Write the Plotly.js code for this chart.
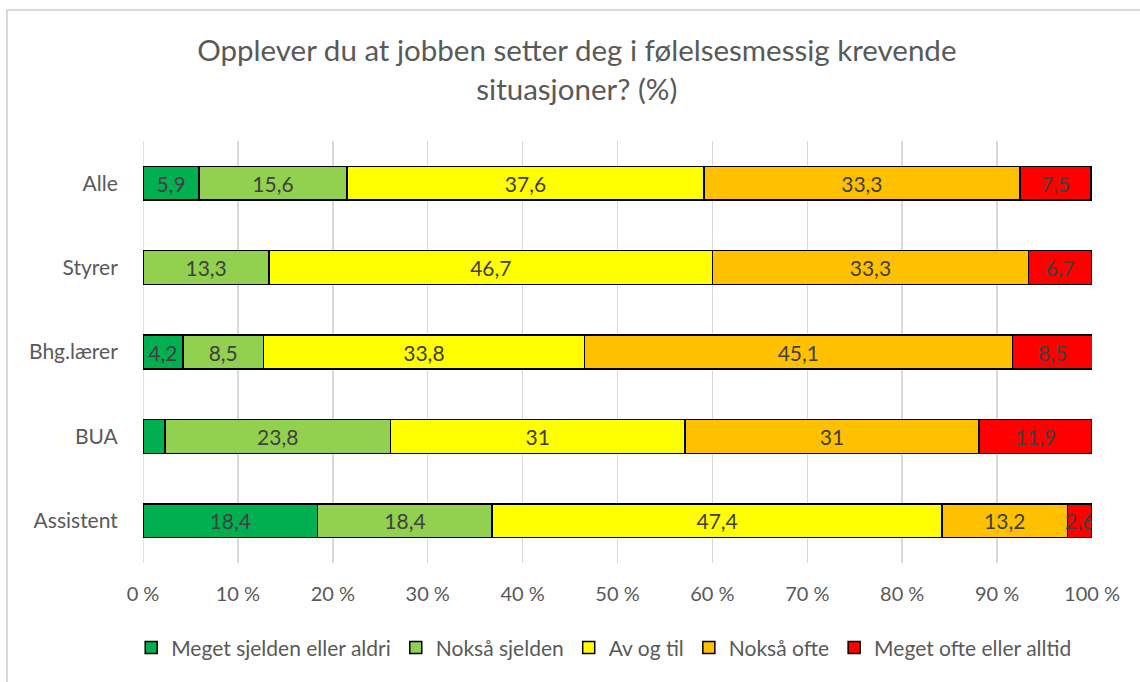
<!DOCTYPE html>
<html>
<head>
<meta charset="utf-8">
<script src="https://cdn.plot.ly/plotly-3.0.1.min.js"></script>
<style>
  html, body { margin: 0; padding: 0; background: #ffffff; }
  #wrap { position: absolute; left: 0; top: 0; width: 1140px; height: 682px; }
  #frame { position: absolute; left: 6px; top: 9px; width: 1140px; height: 690px;
           border-left: 2px solid #d9d9d9; border-top: 2px solid #d9d9d9; pointer-events: none; }
  #chart { position: absolute; left: 0; top: 0; width: 1140px; height: 682px; }
</style>
</head>
<body>
<div id="wrap">
  <div id="chart"></div>
  <div id="frame"></div>
</div>
<script>
// ---- data ----
const categories = ["Alle", "Styrer", "Bhg.lærer", "BUA", "Assistent"];
const seriesNames = ["Meget sjelden eller aldri", "Nokså sjelden", "Av og til", "Nokså ofte", "Meget ofte eller alltid"];
const megetSjelden = [5.9, 0, 4.2, 2.3, 18.4];
const noksaSjelden = [15.6, 13.3, 8.5, 23.8, 18.4];
const avOgTil = [37.6, 46.7, 33.8, 31, 47.4];
const noksaOfte = [33.3, 33.3, 45.1, 31, 13.2];
const megetOfte = [7.5, 6.7, 8.5, 11.9, 2.6];
// labels shown in the picture (BUA's first segment and Styrer's empty segment carry no label)
const shownLabels = [
  [true, false, true, false, true],
  [true, true, true, true, true],
  [true, true, true, true, true],
  [true, true, true, true, true],
  [true, true, true, true, true]
];
const tickValues = [0, 10, 20, 30, 40, 50, 60, 70, 80, 90, 100];
const tickLabels = ["0 %", "10 %", "20 %", "30 %", "40 %", "50 %", "60 %", "70 %", "80 %", "90 %", "100 %"];
const colors = ["#00B050", "#92D050", "#FFFF00", "#FFC000", "#FF0000"];

const allSeries = [megetSjelden, noksaSjelden, avOgTil, noksaOfte, megetOfte];
const FONT = "Lato, 'Open Sans', sans-serif";

const traces = allSeries.map((vals, i) => ({
  type: "bar",
  orientation: "h",
  name: seriesNames[i],
  y: categories,
  x: vals,
  text: vals.map((v, j) => (shownLabels[i][j] && v > 0) ? String(v).replace(".", ",") : ""),
  textposition: "inside",
  insidetextanchor: "middle",
  constraintext: "none",
  textangle: 0,
  textfont: { family: FONT, size: 21, color: "#404040" },
  hoverinfo: "name+x",
  marker: { color: colors[i], line: { color: "#000000", width: 1.5 } }
}));

const layout = {
  width: 1140,
  height: 682,
  paper_bgcolor: "rgba(0,0,0,0)",
  plot_bgcolor: "rgba(0,0,0,0)",
  barmode: "stack",
  bargap: 0.6,
  margin: { l: 143, r: 48, t: 141, b: 119 },
  font: { family: FONT, color: "#595959", size: 21 },
  title: {
    text: "Opplever du at jobben setter deg i følelsesmessig krevende<br>situasjoner? (%)",
    font: { family: FONT, size: 29.5, color: "#595959" },
    x: 0.506, xanchor: "center", xref: "container",
    y: 0.91, yanchor: "top", yref: "container"
  },
  xaxis: {
    range: [0, 100],
    tickvals: tickValues,
    ticktext: tickLabels,
    showgrid: true,
    gridcolor: "#d9d9d9",
    gridwidth: 1.5,
    zeroline: false,
    showline: false,
    ticks: "outside",
    ticklen: 13,
    tickcolor: "rgba(0,0,0,0)",
    tickfont: { family: FONT, size: 20, color: "#595959" },
    fixedrange: true
  },
  yaxis: {
    autorange: "reversed",
    type: "category",
    showgrid: false,
    zeroline: false,
    showline: false,
    ticks: "outside",
    ticklen: 20,
    tickcolor: "rgba(0,0,0,0)",
    tickfont: { family: FONT, size: 21, color: "#595959" },
    fixedrange: true
  },
  shapes: [{
    type: "line", xref: "x", yref: "paper", x0: 0, x1: 0, y0: 0, y1: 1,
    line: { color: "#d9d9d9", width: 1.5 }, layer: "below"
  }],
  legend: {
    orientation: "h",
    x: 0.53, xanchor: "center", xref: "container",
    y: 0.05, yanchor: "middle", yref: "container",
    font: { family: FONT, size: 21, color: "#595959" },
    itemwidth: 30,
    traceorder: "normal"
  },
  showlegend: true
};

Plotly.newPlot("chart", traces, layout, { displayModeBar: false, staticPlot: true });
</script>
</body>
</html>
